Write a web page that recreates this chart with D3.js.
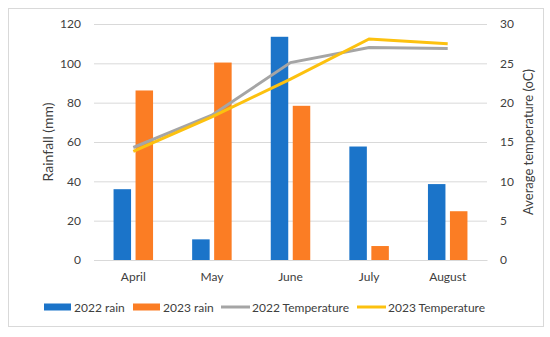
<!DOCTYPE html>
<html>
<head>
<meta charset="utf-8">
<script src="https://cdn.jsdelivr.net/npm/d3@7"></script>
<style>
  body { margin: 0; background: #fff; }
  svg text { font-family: Lato, "Open Sans", sans-serif; fill: #404040; }
</style>
</head>
<body>
<div id="chart"></div>
<script>
var months = ["April", "May", "June", "July", "August"];
var rain2022 = [36, 10.5, 113.5, 57.7, 38.6];
var rain2023 = [86.2, 100.4, 78.4, 7.1, 24.8];
var temp2022 = [14.3, 18.4, 25.1, 27.0, 26.9];
var temp2023 = [13.8, 18.2, 23.0, 28.1, 27.5];
var rainTicks = [0, 20, 40, 60, 80, 100, 120];
var tempTicks = [0, 5, 10, 15, 20, 25, 30];

var W = 550, H = 337;
var svg = d3.select("#chart").append("svg").attr("width", W).attr("height", H);

// outer frame
svg.append("rect").attr("x", 8.5).attr("y", 8.5).attr("width", 535).attr("height", 318)
    .attr("fill", "#fff").attr("stroke", "#d9d9d9").attr("stroke-width", 1);

// note: "top" is taken by window.top, so use plot* names
var plotL = 94, plotR = 487, plotT = 24, plotB = 260;

var x = d3.scaleBand().domain(months).range([plotL, plotR]);
var yRain = d3.scaleLinear().domain([0, 120]).range([plotB, plotT]);
var yTemp = d3.scaleLinear().domain([0, 30]).range([plotB, plotT]);

// gridlines
svg.append("g").selectAll("line").data(rainTicks).enter().append("line")
    .attr("x1", plotL).attr("x2", plotR)
    .attr("y1", d => yRain(d) + 0.5).attr("y2", d => yRain(d) + 0.5)
    .attr("stroke", "#d9d9d9").attr("stroke-width", 1);

// left axis
var leftAxis = svg.append("g").attr("transform", "translate(" + (plotL - 8) + ",0)")
    .call(d3.axisLeft(yRain).tickValues(rainTicks).tickSize(0).tickPadding(5));
leftAxis.select(".domain").remove();
leftAxis.selectAll("text").style("font-size", "12px").attr("fill", "#404040");

// right axis
var rightAxis = svg.append("g").attr("transform", "translate(" + (plotR + 8) + ",0)")
    .call(d3.axisRight(yTemp).tickValues(tempTicks).tickSize(0).tickPadding(5));
rightAxis.select(".domain").remove();
rightAxis.selectAll("text").style("font-size", "12px").attr("fill", "#404040");

// category labels
var bottomAxis = svg.append("g").attr("transform", "translate(0," + plotB + ")")
    .call(d3.axisBottom(x).tickSize(0).tickPadding(12));
bottomAxis.select(".domain").attr("stroke", "#d9d9d9");
bottomAxis.selectAll("text").style("font-size", "12px").attr("fill", "#404040");

// axis titles
svg.append("text").attr("transform", "translate(53," + ((plotT + plotB) / 2) + ") rotate(-90)")
    .attr("text-anchor", "middle").style("font-size", "14px").text("Rainfall (mm)");
svg.append("text").attr("transform", "translate(533," + ((plotT + plotB) / 2) + ") rotate(-90)")
    .attr("text-anchor", "middle").style("font-size", "13px").text("Average temperature (oC)");

// bars
var barW = 17.5, gap = 4.5;
var colors = { r22: "#1b74c9", r23: "#fb7d24", t22: "#a5a5a5", t23: "#fcc10f" };

svg.append("g").selectAll("rect").data(rain2022).enter().append("rect")
    .attr("x", (d, i) => x(months[i]) + x.bandwidth() / 2 - gap / 2 - barW)
    .attr("y", d => yRain(d)).attr("width", barW)
    .attr("height", d => plotB - yRain(d)).attr("fill", colors.r22);
svg.append("g").selectAll("rect").data(rain2023).enter().append("rect")
    .attr("x", (d, i) => x(months[i]) + x.bandwidth() / 2 + gap / 2)
    .attr("y", d => yRain(d)).attr("width", barW)
    .attr("height", d => plotB - yRain(d)).attr("fill", colors.r23);

// temperature lines
var line = d3.line().x((d, i) => x(months[i]) + x.bandwidth() / 2).y(d => yTemp(d));
svg.append("path").datum(temp2022).attr("d", line).attr("fill", "none")
    .attr("stroke", colors.t22).attr("stroke-width", 3);
svg.append("path").datum(temp2023).attr("d", line).attr("fill", "none")
    .attr("stroke", colors.t23).attr("stroke-width", 3);

// legend
var legendItems = [
    { name: "2022 rain", color: colors.r22, kind: "bar", x: 44 },
    { name: "2023 rain", color: colors.r23, kind: "bar", x: 133 },
    { name: "2022 Temperature", color: colors.t22, kind: "line", x: 221 },
    { name: "2023 Temperature", color: colors.t23, kind: "line", x: 357 }
];
var ly = 307;
var lg = svg.append("g").selectAll("g").data(legendItems).enter().append("g")
    .attr("transform", d => "translate(" + d.x + "," + ly + ")");
lg.each(function (d) {
    var g = d3.select(this);
    if (d.kind === "bar") {
        g.append("rect").attr("x", 0).attr("y", -3.5).attr("width", 27).attr("height", 7).attr("fill", d.color);
    } else {
        g.append("line").attr("x1", 0).attr("x2", 29).attr("y1", 0).attr("y2", 0)
            .attr("stroke", d.color).attr("stroke-width", 3);
    }
    g.append("text").attr("x", d.kind === "bar" ? 30 : 31).attr("y", 4.5)
        .style("font-size", "12px").text(d.name);
});
</script>
</body>
</html>
